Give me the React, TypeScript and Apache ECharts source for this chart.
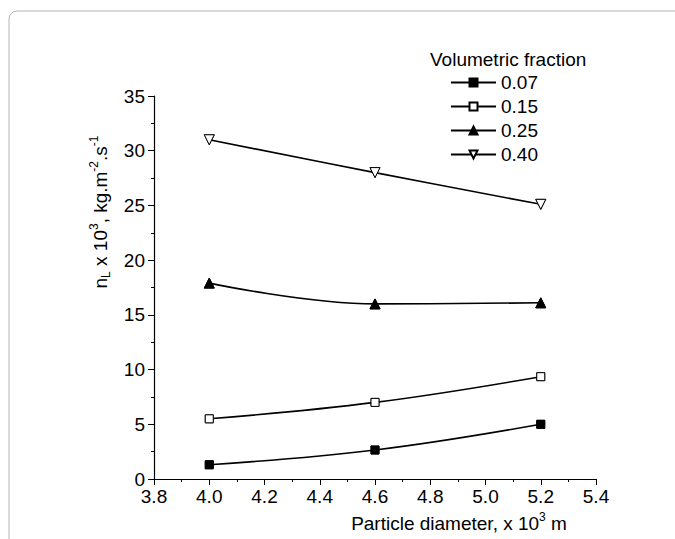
import React, { useEffect, useRef } from "react";
import * as echarts from "echarts";

const diameters = [4.0, 4.6, 5.2];
const seriesNames = ["0.07", "0.15", "0.25", "0.40"];
const v007 = [1.3, 2.65, 5.0];
const v015 = [5.5, 7.0, 9.35];
const v025 = [17.9, 16.0, 16.1];
const v040 = [31.0, 28.0, 25.1];
const xTicks = { min: 3.8, max: 5.4, interval: 0.2 };
const yTicks = { min: 0, max: 35, interval: 5 };

const FONT = "Liberation Sans";
const FS = 19;

export default function App() {
  const ref = useRef<HTMLDivElement>(null);
  useEffect(() => {
    if (!ref.current) return;
    const chart = echarts.init(ref.current, null, { renderer: "svg" });
    const values = [v007, v015, v025, v040];
    const styles = [
      { symbol: "rect", rotate: 0, fill: "#000", size: 8 },
      { symbol: "rect", rotate: 0, fill: "#fff", size: 8 },
      { symbol: "triangle", rotate: 0, fill: "#000", size: 10 },
      { symbol: "triangle", rotate: 180, fill: "#fff", size: 10 },
    ];
    const pts = (arr: number[]) => arr.map((v, i) => [diameters[i], v]);
    const lineSeries = values.map((arr, k) => ({
      name: seriesNames[k],
      type: "line",
      data: pts(arr),
      smooth: 0.4,
      symbol: styles[k].symbol,
      symbolRotate: styles[k].rotate,
      symbolSize: styles[k].size,
      showSymbol: true,
      lineStyle: { color: "#000", width: 1.6 },
      itemStyle: { color: styles[k].fill, borderColor: "#000", borderWidth: 1 },
      emphasis: { disabled: true },
    }));
    const maskSeries = values.map((arr, k) => ({
      name: "mask" + k,
      type: "scatter",
      data: pts(arr),
      symbol: "circle",
      symbolSize: 15,
      itemStyle: { color: "#fff" },
      emphasis: { disabled: true },
      silent: true,
    }));
    const markerSeries = values.map((arr, k) => ({
      name: "marker" + k,
      type: "scatter",
      data: pts(arr),
      symbol: styles[k].symbol,
      symbolRotate: styles[k].rotate,
      symbolSize: styles[k].size,
      itemStyle: { color: styles[k].fill, borderColor: "#000", borderWidth: 1 },
      emphasis: { disabled: true },
    }));

    chart.setOption({
      animation: false,
      backgroundColor: "#fff",
      textStyle: { fontFamily: FONT },
      grid: { left: 154, right: 79, top: 96, bottom: 60, containLabel: false },
      legend: {
        data: seriesNames,
        orient: "vertical",
        left: 445,
        top: 68,
        itemWidth: 45,
        itemHeight: 10,
        itemGap: 5,
        textStyle: { fontSize: FS, color: "#000", fontFamily: FONT },
        selectedMode: false,
      },
      xAxis: {
        type: "value",
        min: xTicks.min,
        max: xTicks.max,
        interval: xTicks.interval,
        splitLine: { show: false },
        axisLine: { lineStyle: { color: "#000", width: 1.2 } },
        axisTick: { length: 6, lineStyle: { color: "#000" } },
        minorTick: { show: true, splitNumber: 2, length: 3, lineStyle: { color: "#000" } },
        axisLabel: {
          color: "#000",
          fontSize: FS,
          margin: 8,
          fontFamily: FONT,
          formatter: (v: number) => v.toFixed(1),
        },
      },
      yAxis: {
        type: "value",
        min: yTicks.min,
        max: yTicks.max,
        interval: yTicks.interval,
        splitLine: { show: false },
        axisLine: { show: true, lineStyle: { color: "#000", width: 1.2 } },
        axisTick: { show: true, length: 6, lineStyle: { color: "#000" } },
        minorTick: { show: true, splitNumber: 2, length: 3, lineStyle: { color: "#000" } },
        axisLabel: { color: "#000", fontSize: FS, margin: 9, fontFamily: FONT },
      },
      graphic: [
        {
          type: "rect",
          shape: { x: 9, y: 11, width: 720, height: 600, r: 8 },
          style: { fill: "none", stroke: "#b4b4b4", lineWidth: 1 },
          silent: true,
          z: -10,
        },
        {
          type: "text",
          x: 430,
          y: 59,
          style: {
            text: "Volumetric fraction",
            fontSize: FS,
            fontFamily: FONT,
            fill: "#000",
            verticalAlign: "middle",
          },
        },
        {
          type: "text",
          x: 459,
          y: 523,
          style: {
            text: "{n|Particle diameter, x 10}{sup|3}{n| m}",
            align: "center",
            verticalAlign: "middle",
            fill: "#000",
            rich: {
              n: { fontSize: FS, fontFamily: FONT, lineHeight: 24, fill: "#000" },
              sup: { fontSize: 12, fontFamily: FONT, lineHeight: 12, verticalAlign: "top", fill: "#000" },
            },
          },
        },
        {
          type: "text",
          x: 100,
          y: 212,
          rotation: Math.PI / 2,
          style: {
            text: "{n|n}{sub|L}{n| x 10}{sup|3}{n|, kg.m}{sup|-2}{n|.s}{sup|-1}",
            align: "center",
            verticalAlign: "middle",
            fill: "#000",
            rich: {
              n: { fontSize: FS, fontFamily: FONT, lineHeight: 24, fill: "#000" },
              sup: { fontSize: 12, fontFamily: FONT, lineHeight: 12, verticalAlign: "top", fill: "#000" },
              sub: { fontSize: 12, fontFamily: FONT, lineHeight: 12, verticalAlign: "bottom", fill: "#000" },
            },
          },
        },
      ],
      series: [...lineSeries, ...maskSeries, ...markerSeries],
    });
    return () => chart.dispose();
  }, []);
  return (
    <div
      ref={ref}
      style={{ position: "fixed", left: 0, top: 0, width: 675, height: 539 }}
    />
  );
}
